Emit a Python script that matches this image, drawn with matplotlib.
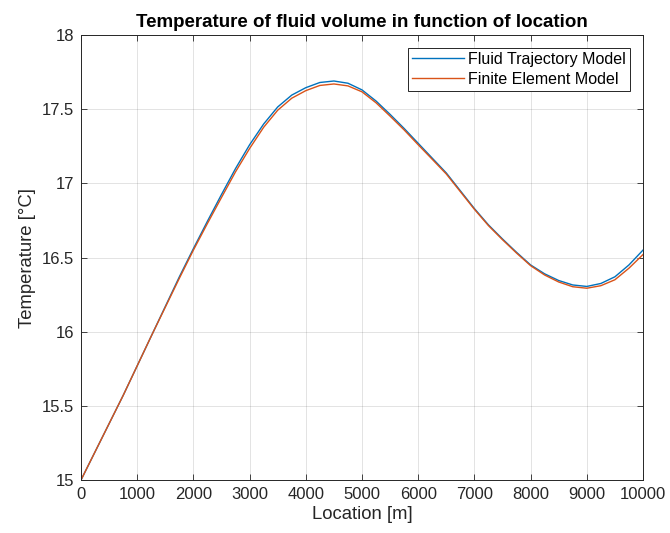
import numpy as np
import matplotlib.pyplot as plt

plt.rcParams['font.family'] = ['Liberation Sans', 'DejaVu Sans']

# Location along the pipe [m]
location = [0, 250, 500, 750, 1000, 1250, 1500, 1750, 2000, 2250, 2500, 2750,
            3000, 3250, 3500, 3750, 4000, 4250, 4500, 4750, 5000, 5250, 5500,
            5750, 6000, 6250, 6500, 6750, 7000, 7250, 7500, 7750, 8000, 8250,
            8500, 8750, 9000, 9250, 9500, 9750, 10000]

# Fluid trajectory model temperature [°C]
temp_trajectory = [15.00, 15.19, 15.38, 15.57, 15.77, 15.97, 16.17, 16.37, 16.56,
                   16.745, 16.925, 17.10, 17.26, 17.40, 17.515, 17.595, 17.645,
                   17.68, 17.69, 17.675, 17.63, 17.555, 17.465, 17.37, 17.27,
                   17.17, 17.07, 16.95, 16.83, 16.72, 16.625, 16.535, 16.45,
                   16.39, 16.345, 16.315, 16.305, 16.325, 16.37, 16.45, 16.55]

# Finite element model temperature [°C]
temp_fem = [15.00, 15.19, 15.38, 15.57, 15.77, 15.97, 16.165, 16.36, 16.55,
            16.73, 16.905, 17.078, 17.235, 17.378, 17.493, 17.574, 17.625,
            17.66, 17.67, 17.657, 17.617, 17.543, 17.453, 17.36, 17.26,
            17.162, 17.063, 16.944, 16.825, 16.715, 16.62, 16.53, 16.445,
            16.382, 16.335, 16.303, 16.293, 16.31, 16.35, 16.428, 16.52]

fig = plt.figure(figsize=(6.7, 5.33), dpi=100)
ax = fig.add_axes([0.1209, 0.0994, 0.8388, 0.8349])

ax.plot(location, temp_trajectory, color='#0072BD', lw=1.0, label='Fluid Trajectory Model')
ax.plot(location, temp_fem, color='#D95319', lw=1.0, label='Finite Element Model')

ax.set_xlim(0, 10000)
ax.set_ylim(15, 18)
ax.set_xticks(np.arange(0, 10001, 1000))
ax.set_yticks(np.arange(15, 18.01, 0.5))
ax.set_yticklabels(['15', '15.5', '16', '16.5', '17', '17.5', '18'])

ax.grid(True, color='#262626', alpha=0.15, lw=0.6)
ax.tick_params(direction='in', top=True, right=True, length=4, width=0.6,
               colors='#262626', labelsize=12, pad=5)
for sp in ax.spines.values():
    sp.set_color('#262626')
    sp.set_linewidth(0.7)

ax.set_xlabel('Location [m]', fontsize=13.3, color='#262626', labelpad=3)
ax.set_ylabel('Temperature [°C]', fontsize=13.3, color='#262626', labelpad=4)
ax.set_title('Temperature of fluid volume in function of location',
             fontsize=13.5, fontweight='bold', color='black', pad=6)

leg = ax.legend(loc='upper right', fontsize=11.5, fancybox=False, framealpha=1,
                edgecolor='#262626', borderaxespad=0.8, handlelength=3.3,
                handletextpad=0.25, borderpad=0.25, labelspacing=0.3)
leg.get_frame().set_linewidth(0.7)

fig.savefig('out.png', dpi=100)
